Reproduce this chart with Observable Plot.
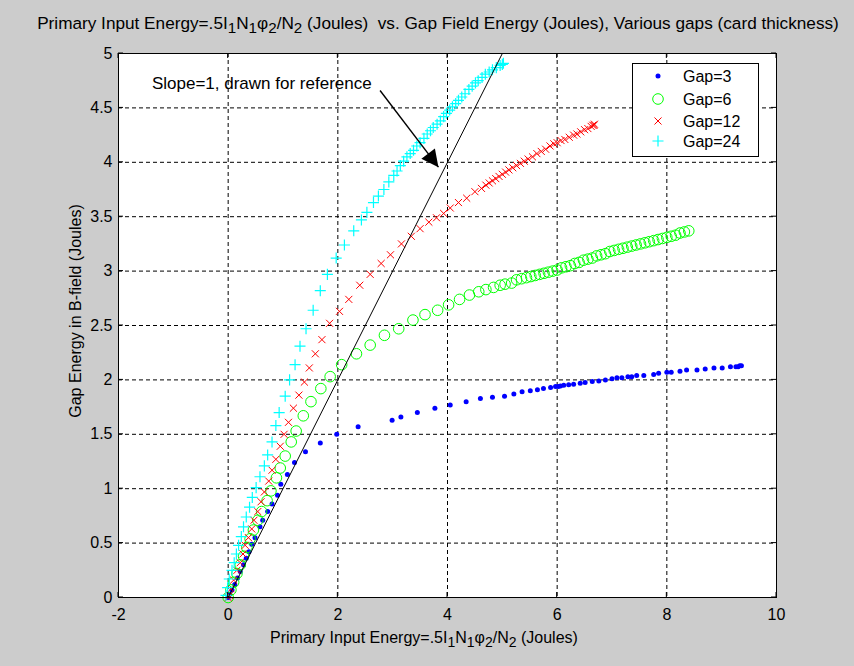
<!DOCTYPE html>
<html>
<head>
<meta charset="utf-8">
<script src="https://cdn.jsdelivr.net/npm/d3@7"></script>
<script src="https://cdn.jsdelivr.net/npm/@observablehq/plot@0.6"></script>
<style>
html, body { margin: 0; padding: 0; background: #cccccc; }
#chart { width: 854px; height: 666px; }
svg text { white-space: pre; }
</style>
</head>
<body>
<div id="chart"></div>
<script>
// ---------- data ----------
const seriesNames = ["Gap=3", "Gap=6", "Gap=12", "Gap=24"];
const seriesColors = ["#0000ff", "#00ff00", "#ff0000", "#00ffff"];

const gap3 = [[0,0],[0.03,0.03],[0.07,0.07],[0.12,0.12],[0.17,0.18],[0.22,0.24],[0.28,0.30],[0.33,0.36],[0.38,0.42],[0.43,0.49],[0.49,0.55],[0.58,0.65],[0.63,0.71],[0.72,0.79],[0.80,0.86],[0.90,0.94],[0.96,1.04],[1.08,1.13],[1.21,1.24],[1.41,1.34],[1.68,1.42],[1.98,1.50],[2.37,1.57],[2.99,1.63],[3.15,1.66],[3.45,1.70],[3.77,1.74],[4.05,1.77],[4.34,1.80],[4.60,1.83],[4.82,1.84],[5.04,1.85],[5.21,1.87],[5.36,1.89],[5.51,1.90],[5.64,1.91],[5.75,1.92],[5.88,1.93],[5.97,1.94],[6.02,1.94],[6.06,1.945],[6.12,1.95],[6.21,1.955],[6.30,1.96],[6.42,1.97],[6.51,1.975],[6.64,1.985],[6.76,1.99],[6.88,2.00],[7.00,2.01],[7.09,2.02],[7.18,2.02],[7.29,2.03],[7.36,2.03],[7.45,2.04],[7.58,2.04],[7.76,2.05],[7.85,2.06],[8.00,2.07],[8.08,2.07],[8.24,2.08],[8.36,2.09],[8.55,2.09],[8.70,2.10],[8.86,2.11],[9.01,2.11],[9.16,2.12],[9.26,2.12],[9.30,2.12],[9.33,2.13],[9.36,2.13]];

const gap6 = [[0,0],[0.05,0.07],[0.10,0.14],[0.16,0.22],[0.22,0.30],[0.28,0.38],[0.34,0.46],[0.40,0.54],[0.46,0.62],[0.54,0.71],[0.61,0.79],[0.71,0.89],[0.78,0.98],[0.88,1.10],[0.95,1.19],[1.04,1.30],[1.15,1.43],[1.24,1.53],[1.37,1.67],[1.51,1.80],[1.69,1.92],[1.86,2.03],[2.07,2.14],[2.34,2.24],[2.59,2.32],[2.85,2.41],[3.11,2.47],[3.37,2.55],[3.59,2.60],[3.82,2.64],[4.02,2.69],[4.22,2.74],[4.40,2.78],[4.57,2.81],[4.70,2.83],[4.84,2.85],[4.96,2.87],[5.05,2.88],[5.17,2.89],[5.26,2.92],[5.35,2.93],[5.44,2.94],[5.52,2.95],[5.60,2.96],[5.68,2.97],[5.76,2.98],[5.84,2.99],[5.92,3.00],[6.00,3.01],[6.08,3.03],[6.16,3.04],[6.24,3.05],[6.32,3.07],[6.40,3.08],[6.48,3.10],[6.56,3.11],[6.64,3.12],[6.72,3.14],[6.80,3.15],[6.88,3.16],[6.96,3.18],[7.04,3.19],[7.12,3.20],[7.20,3.21],[7.28,3.22],[7.36,3.23],[7.44,3.24],[7.52,3.25],[7.60,3.26],[7.68,3.27],[7.76,3.28],[7.84,3.29],[7.92,3.30],[8.00,3.31],[8.08,3.32],[8.16,3.33],[8.24,3.35],[8.32,3.36],[8.40,3.37]];

const gap12 = [[0,0],[0.02,0.02],[0.05,0.08],[0.10,0.16],[0.16,0.25],[0.22,0.32],[0.27,0.40],[0.31,0.48],[0.37,0.55],[0.43,0.63],[0.47,0.71],[0.54,0.79],[0.60,0.88],[0.66,0.97],[0.74,1.07],[0.80,1.17],[0.87,1.27],[0.95,1.39],[1.02,1.50],[1.10,1.61],[1.19,1.74],[1.29,1.86],[1.39,1.98],[1.48,2.11],[1.59,2.24],[1.71,2.37],[1.85,2.52],[2.03,2.63],[2.20,2.74],[2.40,2.87],[2.59,2.97],[2.79,3.07],[2.96,3.15],[3.16,3.25],[3.34,3.32],[3.50,3.39],[3.66,3.45],[3.80,3.49],[3.93,3.53],[4.05,3.58],[4.20,3.63],[4.35,3.67],[4.50,3.73],[4.62,3.76],[4.70,3.79],[4.76,3.81],[4.82,3.83],[4.88,3.85],[4.94,3.87],[5.00,3.89],[5.06,3.91],[5.12,3.93],[5.19,3.95],[5.26,3.97],[5.33,3.99],[5.40,4.01],[5.47,4.03],[5.55,4.05],[5.63,4.08],[5.71,4.10],[5.79,4.12],[5.87,4.15],[5.94,4.17],[6.00,4.18],[6.07,4.20],[6.14,4.21],[6.22,4.23],[6.30,4.25],[6.36,4.26],[6.43,4.28],[6.50,4.30],[6.56,4.31],[6.62,4.33],[6.65,4.34],[6.67,4.34],[6.68,4.35]];

const gap24 = [[-0.04,0.02],[-0.01,0.09],[0.02,0.17],[0.07,0.25],[0.11,0.32],[0.15,0.40],[0.19,0.48],[0.24,0.56],[0.28,0.65],[0.33,0.74],[0.39,0.83],[0.44,0.92],[0.51,1.01],[0.58,1.11],[0.66,1.21],[0.72,1.31],[0.80,1.43],[0.87,1.58],[0.93,1.70],[1.04,1.85],[1.12,2.00],[1.22,2.14],[1.31,2.31],[1.42,2.47],[1.55,2.64],[1.68,2.82],[1.81,2.97],[1.97,3.12],[2.12,3.24],[2.29,3.37],[2.43,3.47],[2.53,3.54],[2.65,3.63],[2.74,3.69],[2.84,3.75],[2.93,3.82],[3.02,3.88],[3.08,3.92],[3.14,3.97],[3.20,4.01],[3.26,4.05],[3.32,4.08],[3.38,4.11],[3.44,4.15],[3.50,4.18],[3.57,4.22],[3.63,4.26],[3.69,4.29],[3.74,4.32],[3.81,4.35],[3.87,4.38],[3.93,4.42],[3.98,4.45],[4.04,4.48],[4.09,4.51],[4.15,4.54],[4.20,4.57],[4.26,4.60],[4.32,4.63],[4.39,4.67],[4.45,4.70],[4.51,4.73],[4.56,4.75],[4.63,4.78],[4.69,4.81],[4.76,4.83],[4.82,4.85],[4.89,4.87],[4.96,4.89],[5.00,4.90],[5.02,4.91]];

const refLine = [[0,0],[5,5]];                        // slope = 1 reference line
const arrowLine = [{x1: 2.77, y1: 4.66, x2: 3.835, y2: 3.955}];
const annotation = [{x: -1.39, y: 4.72, text: "Slope=1, drawn for reference"}];

const xTicks = [-2, 0, 2, 4, 6, 8, 10];
const yTicks = [0, 0.5, 1, 1.5, 2, 2.5, 3, 3.5, 4, 4.5, 5];
const xTickLabels = ["-2", "0", "2", "4", "6", "8", "10"];
const yTickLabels = ["0", "0.5", "1", "1.5", "2", "2.5", "3", "3.5", "4", "4.5", "5"];

const titleParts = [["Primary Input Energy=.5I"],["1","s"],["N"],["1","s"],["\u03C6"],["2","s"],["/N"],["2","s"],[" (Joules)  vs. Gap Field Energy (Joules), Various gaps (card thickness)"]];
const xLabelParts = [["Primary Input Energy=.5I"],["1","s"],["N"],["1","s"],["\u03C6"],["2","s"],["/N"],["2","s"],[" (Joules)"]];
const yLabel = "Gap Energy in B-field (Joules)";

// ---------- chart ----------
const FONT = "'Liberation Sans', Arial, Helvetica, sans-serif";
const FS = 16, TITLE_FS = 17.2, NOTE_FS = 17;
const xy = {x: d => d[0], y: d => d[1]};

const chart = Plot.plot({
  width: 854, height: 666,
  marginLeft: 118, marginRight: 78, marginTop: 53, marginBottom: 69,
  style: {background: "#cccccc", fontFamily: FONT, fontSize: FS + "px", color: "#000", overflow: "visible"},
  x: {domain: [-2, 10], label: null},
  y: {domain: [0, 5], label: null},
  marks: [
    Plot.frame({fill: "white", stroke: null}),
    Plot.gridX(xTicks, {stroke: "#000", strokeOpacity: 1, strokeWidth: 1, strokeDasharray: "4,3"}),
    Plot.gridY(yTicks, {stroke: "#000", strokeOpacity: 1, strokeWidth: 1, strokeDasharray: "4,3"}),
    Plot.dot(gap3, {...xy, r: 2.5, fill: seriesColors[0], stroke: null}),
    Plot.dot(gap6, {...xy, r: 5.3, symbol: "circle", fill: "none", stroke: seriesColors[1], strokeWidth: 1}),
    Plot.dot(gap12, {...xy, r: 3.3, symbol: "times", fill: "none", stroke: seriesColors[2], strokeWidth: 1}),
    Plot.dot(gap24, {...xy, r: 3.65, symbol: "plus", fill: "none", stroke: seriesColors[3], strokeWidth: 1.2}),
    Plot.line(refLine, {...xy, stroke: "#000", strokeWidth: 1}),
    Plot.link(arrowLine, {x1: "x1", y1: "y1", x2: "x2", y2: "y2", stroke: "#000", strokeWidth: 1.4}),
    Plot.text(annotation, {x: "x", y: "y", text: "text", textAnchor: "start", fontSize: NOTE_FS, fill: "#000"}),
    Plot.frame({stroke: "#000", strokeWidth: 1}),
    Plot.axisX(xTicks, {tickSize: 0, tickPadding: 11, tickFormat: (d, i) => xTickLabels[i], fontSize: FS}),
    Plot.axisY(yTicks, {tickSize: 0, tickPadding: 6, tickFormat: (d, i) => yTickLabels[i], fontSize: FS})
  ]
});

document.getElementById("chart").appendChild(chart);

// ---------- decorations drawn with the plot's own scales ----------
const svg = d3.select(chart);
const sx = chart.scale("x"), sy = chart.scale("y");
const xl = sx.apply(-2), xr = sx.apply(10), yb = sy.apply(0), yt = sy.apply(5);

// filled arrowhead
const defs = svg.append("defs");
defs.append("marker")
  .attr("id", "ahead").attr("viewBox", "0 0 10 10").attr("refX", 10).attr("refY", 5)
  .attr("markerWidth", 18).attr("markerHeight", 17).attr("markerUnits", "userSpaceOnUse")
  .attr("orient", "auto")
  .append("path").attr("d", "M0,0L10,5L0,10Z").attr("fill", "#000");
svg.selectAll('g[aria-label="link"] path').attr("marker-end", "url(#ahead)");

// inward tick marks on all four sides
const tg = svg.append("g").attr("stroke", "#000").attr("stroke-width", 1);
xTicks.forEach(v => {
  const px = sx.apply(v);
  tg.append("line").attr("x1", px).attr("x2", px).attr("y1", yb).attr("y2", yb - 5);
  tg.append("line").attr("x1", px).attr("x2", px).attr("y1", yt).attr("y2", yt + 5);
});
yTicks.forEach(v => {
  const py = sy.apply(v);
  tg.append("line").attr("x1", xl).attr("x2", xl + 5).attr("y1", py).attr("y2", py);
  tg.append("line").attr("x1", xr).attr("x2", xr - 5).attr("y1", py).attr("y2", py);
});

function richText(g, parts, size) {
  let shifted = false;
  parts.forEach(([txt, kind]) => {
    const t = g.append("tspan").text(txt);
    if (kind === "s" && !shifted) { t.attr("dy", 4).attr("font-size", size - 2); shifted = true; }
    else if (kind === "s") { t.attr("font-size", size - 2); }
    else if (shifted) { t.attr("dy", -4); shifted = false; }
  });
}

// title
const title = svg.append("text").attr("x", 438).attr("y", 29).attr("text-anchor", "middle")
  .attr("font-family", FONT).attr("font-size", TITLE_FS).attr("fill", "#000");
richText(title, titleParts, TITLE_FS);

// x label
const xlab = svg.append("text").attr("x", 270).attr("y", 643).attr("text-anchor", "start")
  .attr("font-family", FONT).attr("font-size", FS).attr("fill", "#000");
richText(xlab, xLabelParts, FS);

// y label
svg.append("text").attr("transform", "translate(81,311) rotate(-90)")
  .attr("text-anchor", "middle").attr("font-family", FONT).attr("font-size", FS).attr("fill", "#000")
  .text(yLabel);

// legend
const lg = svg.append("g").attr("font-family", FONT).attr("font-size", FS).attr("text-anchor", "start");
lg.append("rect").attr("x", 632.5).attr("y", 63.5).attr("width", 126).attr("height", 93)
  .attr("fill", "white").attr("stroke", "#000").attr("stroke-width", 1);
const legendY = [76, 99, 121, 141];
const legendSymbols = [
  {type: d3.symbolCircle, size: Math.PI * 2.5 * 2.5, fill: seriesColors[0], stroke: "none", sw: 0},
  {type: d3.symbolCircle, size: Math.PI * 5.3 * 5.3, fill: "none", stroke: seriesColors[1], sw: 1},
  {type: d3.symbolTimes, size: Math.PI * 3.3 * 3.3, fill: "none", stroke: seriesColors[2], sw: 1},
  {type: d3.symbolPlus, size: Math.PI * 3.65 * 3.65, fill: "none", stroke: seriesColors[3], sw: 1.2}
];
seriesNames.forEach((name, i) => {
  const s = legendSymbols[i];
  lg.append("path").attr("transform", `translate(658,${legendY[i]})`)
    .attr("d", d3.symbol().type(s.type).size(s.size)())
    .attr("fill", s.fill).attr("stroke", s.stroke).attr("stroke-width", s.sw);
  lg.append("text").attr("x", 683).attr("y", legendY[i]).attr("dy", "0.35em").attr("fill", "#000").text(name);
});
</script>
</body>
</html>
